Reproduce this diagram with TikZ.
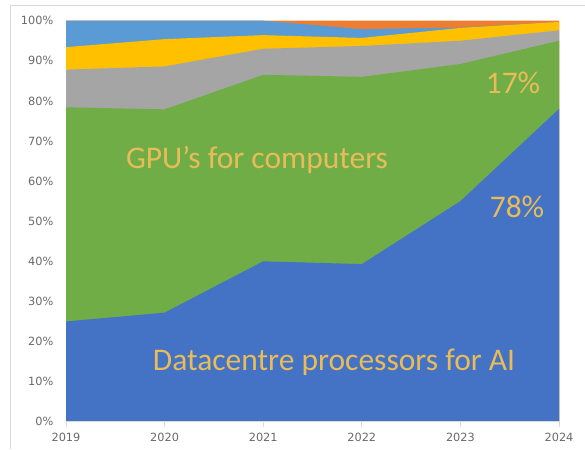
\documentclass[tikz,border=0pt]{standalone}
\usepackage{fontspec}
\setmainfont{Carlito}
\newfontfamily\axfont{DejaVu Sans}
\definecolor{cblue}{HTML}{4472C4}
\definecolor{cgreen}{HTML}{70AD47}
\definecolor{cgray}{HTML}{A5A5A5}
\definecolor{cyellow}{HTML}{FFC000}
\definecolor{clblue}{HTML}{5B9BD5}
\definecolor{corange}{HTML}{ED7D31}
\definecolor{cgold}{HTML}{E8BC58}
\definecolor{caxis}{HTML}{6A6A6A}
\definecolor{cframe}{HTML}{D9D9D9}
\begin{document}
\begin{tikzpicture}[x=1pt,y=-1pt,
  axlab/.style={font=\axfont\fontsize{11.3}{13}\selectfont,text=caxis,inner sep=0pt},
  biglab/.style={font=\fontsize{31.5}{36}\selectfont,text=cgold,inner sep=0pt}]
\useasboundingbox (0,0) rectangle (585,449);
\fill[white] (0,0) rectangle (585,449);
% frame
\draw[cframe,line width=1pt] (10,449) -- (10,6) -- (585,6);
% helper: x(i)=66+98.6 i ; y(p)=421.7-4.01 p
\newcommand{\cpt}[2]{({66+98.6*#1},{421.7-4.01*#2})}
% orange (top layer, to 100)
\fill[corange] \cpt{0}{0} -- \cpt{0}{100} -- \cpt{1}{100} -- \cpt{2}{100} -- \cpt{3}{100} -- \cpt{4}{100} -- \cpt{5}{100} -- \cpt{5}{0} -- cycle;
% light blue
\fill[clblue] \cpt{0}{0} -- \cpt{0}{100} -- \cpt{1}{100} -- \cpt{2}{100} -- \cpt{3}{97.9} -- \cpt{4}{98.3} -- \cpt{5}{99.7} -- \cpt{5}{0} -- cycle;
% yellow
\fill[cyellow] \cpt{0}{0} -- \cpt{0}{93.4} -- \cpt{1}{95.4} -- \cpt{2}{96.4} -- \cpt{3}{95.7} -- \cpt{4}{98.2} -- \cpt{5}{99.7} -- \cpt{5}{0} -- cycle;
% gray
\fill[cgray] \cpt{0}{0} -- \cpt{0}{87.8} -- \cpt{1}{88.6} -- \cpt{2}{93} -- \cpt{3}{93.7} -- \cpt{4}{95} -- \cpt{5}{97.6} -- \cpt{5}{0} -- cycle;
% green
\fill[cgreen] \cpt{0}{0} -- \cpt{0}{78.4} -- \cpt{1}{77.9} -- \cpt{2}{86.5} -- \cpt{3}{86} -- \cpt{4}{89.2} -- \cpt{5}{95} -- \cpt{5}{0} -- cycle;
% blue
\fill[cblue] \cpt{0}{0} -- \cpt{0}{25} -- \cpt{1}{27.2} -- \cpt{2}{40} -- \cpt{3}{39.3} -- \cpt{4}{55} -- \cpt{5}{78} -- \cpt{5}{0} -- cycle;
% x axis
\coordinate (ax0) at (66,421.7);
\coordinate (ax5) at (559,421.7);
\draw[cframe,line width=0.8pt] (ax0) -- (ax5);
\foreach \i/\yr in {0/2019,1/2020,2/2021,3/2022,4/2023,5/2024}{
  \draw[cframe,line width=0.8pt] ({66+98.6*\i},421.7) -- ({66+98.6*\i},426.5);
  \node[axlab] (yr\yr) at ({66+98.6*\i},437.7) {\yr};
}
\foreach \p in {0,10,...,100}{
  \node[axlab,anchor=east] (pc\p) at (53.5,{421.7-4.01*\p}) {\p\%};
}
% labels
\node[biglab] (gpu) at (257,160) {GPU’s for computers};
\node[biglab] (dc) at (334,362) {Datacentre processors for AI};
\node[biglab] (p17) at (513,83) {17\%};
\node[biglab] (p78) at (517,207) {78\%};
\end{tikzpicture}
\end{document}
